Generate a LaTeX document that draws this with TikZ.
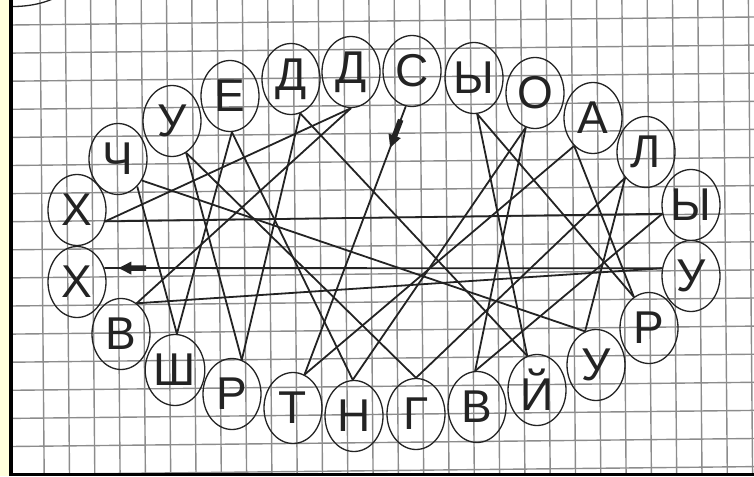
\documentclass[tikz,border=0pt]{standalone}
\usepackage{fontspec}
\setmainfont{Liberation Sans}
\usepackage{tikz}
\usetikzlibrary{arrows.meta,shapes.geometric,calc}
\usepackage{xcolor}
\definecolor{paper}{RGB}{255,255,221}
\definecolor{gridgray}{RGB}{140,140,140}
\definecolor{ink}{RGB}{35,35,35}

\begin{document}
\begin{tikzpicture}[x=0.5pt,y=-0.5pt,
  letter/.style={ellipse,draw=ink,line width=0.65pt,minimum width=29pt,minimum height=35.5pt,
    inner sep=0pt,text=ink,font=\fontsize{23}{23}\selectfont},
  link/.style={draw=ink,line width=0.9pt},
  marker/.style={draw=ink,line width=2.8pt,-{Triangle[length=6.5pt,width=6pt]}}]
\useasboundingbox (0,0) rectangle (754,476);
\fill[paper] (0,0) rectangle (9,476);
\begin{scope}
\clip (11,0) rectangle (754,474);
\foreach \k in {0,...,28}
  \draw[gridgray,line width=0.7pt] ({40+25.3*\k},0) -- ({44.2+25.3*\k},476);
\foreach \k in {0,...,16}
  \draw[gridgray,line width=0.7pt] (11,{25+28.1*\k}) -- (754,{17+28.1*\k});
\draw[ink,line width=0.65pt] (13,-28.5) ellipse [x radius=64,y radius=35];
\end{scope}
\draw[line width=2.2pt] (10.75,0) -- (10.75,476);
\draw[line width=1.5pt] (9,474.5) -- (754,474.5);

\node[letter] (h1) at (77,210) {Х};
\node[letter] (ch) at (118,159) {Ч};
\node[letter] (u1) at (172,121) {У};
\node[letter] (e) at (230,96) {Е};
\node[letter] (d1) at (291,79) {Д};
\node[letter] (d2) at (351,72) {Д};
\node[letter] (s) at (412,71) {С};
\node[letter] (y1) at (474,78) {Ы};
\node[letter] (o) at (535,93) {О};
\node[letter] (a) at (593,118) {А};
\node[letter] (l) at (646,152) {Л};
\node[letter] (y2) at (691,205) {Ы};
\node[letter] (u2) at (691,276) {У};
\node[letter] (r1) at (649,328) {Р};
\node[letter] (u3) at (596,365) {У};
\node[letter] (j) at (537,390) {Й};
\node[letter] (v1) at (477,407) {В};
\node[letter] (g) at (416,414) {Г};
\node[letter] (n) at (354,416) {Н};
\node[letter] (t) at (293,408) {Т};
\node[letter] (r2) at (232,394) {Р};
\node[letter] (sh) at (175,370) {Ш};
\node[letter] (v2) at (121,334) {В};
\node[letter] (h2) at (77,282) {Х};

\draw[link] (s.-100) -- (t.71);
\draw[link] (t.71) -- (a.-124);
\draw[link] (a.-124) -- (r1.116);
\draw[link] (r1.116) -- (y1.-85);
\draw[link] (y1.-85) -- (j.106);
\draw[link] (j.106) -- (d1.-75);
\draw[link] (d1.-75) -- (r2.74);
\draw[link] (r2.74) -- (u1.-66);
\draw[link] (u1.-66) -- (g.90);
\draw[link] (g.90) -- (l.-129);
\draw[link] (l.-129) -- (u3.108);
\draw[link] (u3.108) -- (ch.-42);
\draw[link] (ch.-55) -- (sh.87);
\draw[link] (sh.87) -- (e.-87);
\draw[link] (e.-87) -- (n.92);
\draw[link] (n.92) -- (o.-105);
\draw[link] (o.-105) -- (v1.93);
\draw[link] (v1.93) -- (y2.197);
\draw[link] (y2.197) -- (h1.-22);
\draw[link] (h1.-22) -- (d2.-90);
\draw[link] (d2.-90) -- (v2.63);
\draw[link] (v2.63) -- (u2.165);
\draw[link] (u2.165) -- (h2.27);

\draw[marker] ($(s.-100)!0.05!(t.71)$) -- ($(s.-100)!0.155!(t.71)$);
\draw[marker] ($(u2.165)!0.925!(h2.27)$) -- ($(u2.165)!0.975!(h2.27)$);
\end{tikzpicture}
\end{document}
